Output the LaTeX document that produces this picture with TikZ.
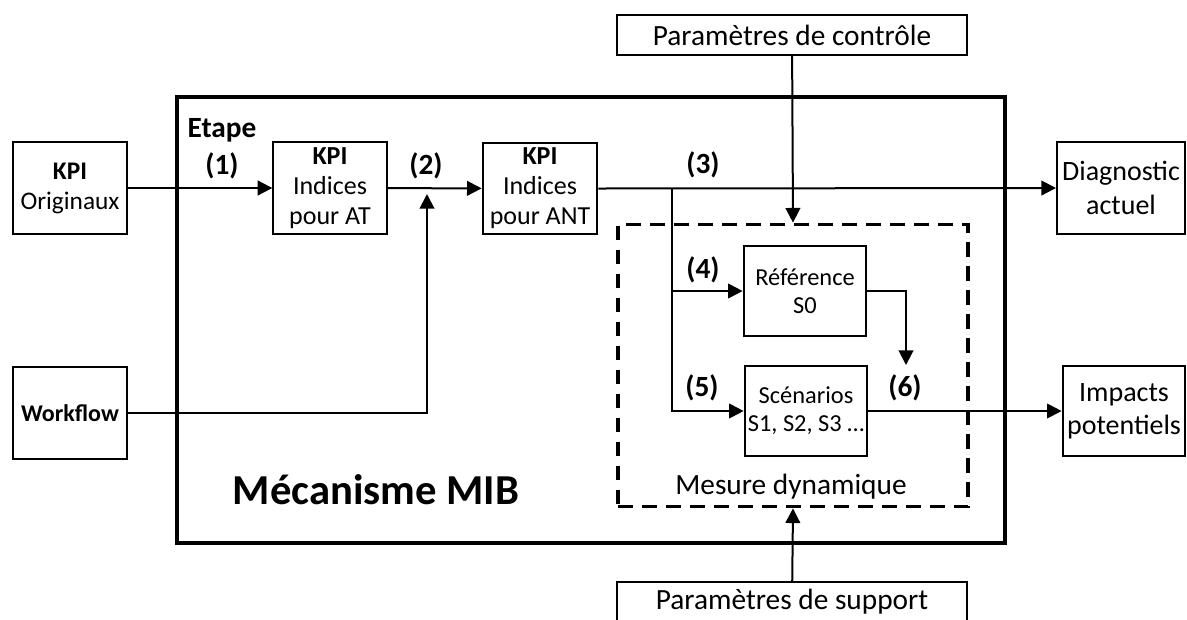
\documentclass[tikz,border=0pt]{standalone}
\usepackage{fontspec}
\setmainfont{Carlito}
\usetikzlibrary{arrows.meta, positioning}
\tikzstyle{block} = [rectangle, draw, line width=1.5pt, align=center, inner sep=0pt,
     font=\fontsize{19.5}{22.5}\selectfont, minimum width=86pt, minimum height=69pt]
\tikzstyle{smallblock} = [block, font=\fontsize{18.3}{21}\selectfont, minimum width=92pt, minimum height=68pt]
\tikzstyle{param} = [block, minimum width=262pt, minimum height=30pt, font=\fontsize{22}{24}\selectfont]
\tikzstyle{etiquette} = [font=\bfseries\fontsize{22}{24}\selectfont]
\tikzstyle{arrow} = [line width=1.5pt, -{Triangle[length=11pt,width=11pt]}]

\begin{document}
\begin{tikzpicture}[x=0.75pt, y=-0.75pt]
     \useasboundingbox (0,0) rectangle (1187,619);
     % Cadres
     \node [draw, line width=2.3pt, minimum width=621pt, minimum height=334.5pt] (mib) at (591,320) {};
     \node [draw, dashed, dash pattern=on 11pt off 7pt, line width=2.3pt,
            minimum width=262.5pt, minimum height=212pt] (dyn) at (793,365.5) {};
     % Nodes
     \node [block, font=\fontsize{19}{22.5}\selectfont] (orig) at (70,188) {\textbf{KPI}\\Originaux};
     \node [block, minimum width=85pt] (at) at (330,188) {\textbf{KPI}\\Indices\\pour AT};
     \node [block, minimum height=68pt] (ant) at (540,188.5) {\textbf{KPI}\\Indices\\pour ANT};
     \node [block, font=\bfseries\fontsize{18}{20}\selectfont] (work) at (70,413) {Workflow};
     \node [block, minimum width=96pt, font=\fontsize{21}{25}\selectfont] (diag) at (1121,188) {Diagnostic\\actuel};
     \node [block, minimum width=92pt, minimum height=68pt, font=\fontsize{21}{25}\selectfont] (imp) at (1124,411) {Impacts\\potentiels};
     \node [smallblock] (ref) at (805,291) {Référence\\S0};
     \node [smallblock] (scen) at (806,411) {Scénarios\\S1, S2, S3 \dots};
     \node [param] (ctrl) at (792,35) {Paramètres de contrôle};
     \node [param] (supp) at (792,602) {Paramètres de support};
     % Labels
     \node [etiquette] (etape) at (222,130) {Etape};
     \node [etiquette] (e1) at (222,166) {(1)};
     \node [etiquette] (e2) at (426,166) {(2)};
     \node [etiquette] (e3) at (703,165) {(3)};
     \node [etiquette] (e4) at (703,270) {(4)};
     \node [etiquette] (e5) at (702,388) {(5)};
     \node [etiquette] (e6) at (905,388) {(6)};
     \node [font=\fontsize{22}{24}\selectfont] (mesure) at (791,487) {Mesure dynamique};
     \node [font=\bfseries\fontsize{32}{36}\selectfont] (titre) at (376,490) {Mécanisme MIB};
     \coordinate (wtip) at (427,194);
     \coordinate (split) at (672,189);
     \coordinate (sixtip) at (906,365);

     % Arrows
     \draw [arrow] (orig) -- (at);
     \draw [arrow] (at) -- (ant);
     \draw [arrow] (work.east) -| (wtip);
     \draw [arrow] (ant.east) -- (diag.west);
     \draw [arrow] (split) |- (ref.west);
     \draw [arrow] (split) |- (scen.west);
     \draw [arrow] (ref.east) -| (sixtip);
     \draw [arrow] (scen) -- (imp);
     \draw [arrow] (ctrl) -- (dyn.north);
     \draw [arrow] (supp) -- (dyn.south);
\end{tikzpicture}
\end{document}
